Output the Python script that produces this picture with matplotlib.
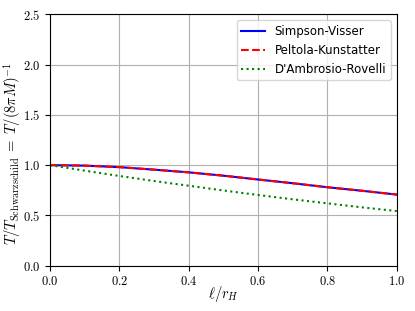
import numpy as np
import matplotlib
matplotlib.use('Agg')
import matplotlib.pyplot as plt
from matplotlib.ticker import FuncFormatter

plt.rcParams['mathtext.fontset'] = 'cm'
plt.rcParams['font.size'] = 8

ell = [0.0, 0.1, 0.2, 0.3, 0.4, 0.5, 0.6, 0.7, 0.8, 0.9, 1.0]
t_sv = [1.0, 0.995, 0.98, 0.955, 0.928, 0.895, 0.857, 0.82, 0.78, 0.745, 0.707]
t_pk = [1.0, 0.995, 0.98, 0.955, 0.928, 0.895, 0.857, 0.82, 0.78, 0.745, 0.707]
t_dr = [1.0, 0.945, 0.892, 0.842, 0.795, 0.748, 0.703, 0.66, 0.62, 0.58, 0.543]

fig = plt.figure(figsize=(4.15, 3.11), dpi=100)
ax = fig.add_axes([0.1205, 0.1457, 0.8354, 0.8084])

ax.plot(ell, t_sv, 'b-', lw=1.5, label='Simpson-Visser')
ax.plot(ell, t_pk, 'r--', lw=1.5, label='Peltola-Kunstatter')
ax.plot(ell, t_dr, 'g:', lw=1.5, label="D'Ambrosio-Rovelli")

ax.set_xlim(0, 1)
ax.set_ylim(0, 2.5)
ax.set_xticks([0.0, 0.2, 0.4, 0.6, 0.8, 1.0])
ax.set_yticks([0.0, 0.5, 1.0, 1.5, 2.0, 2.5])
fmt = FuncFormatter(lambda v, p: r'$%.1f$' % v)
ax.xaxis.set_major_formatter(fmt)
ax.yaxis.set_major_formatter(fmt)
ax.tick_params(labelsize=9)
ax.grid(True, color='#b0b0b0', lw=0.8)

ax.set_xlabel(r'$\ell/r_H$', fontsize=10.5)
ax.set_ylabel(r'$T/T_{\mathrm{Schwarzschild}}\;=\;T/(8\pi M)^{-1}$', fontsize=10.5)
ax.xaxis.set_label_coords(0.5, -0.072)
ax.yaxis.set_label_coords(-0.078, 0.445)
ax.legend(loc='upper right', fontsize=8.5)

fig.savefig('out.png', dpi=100)
